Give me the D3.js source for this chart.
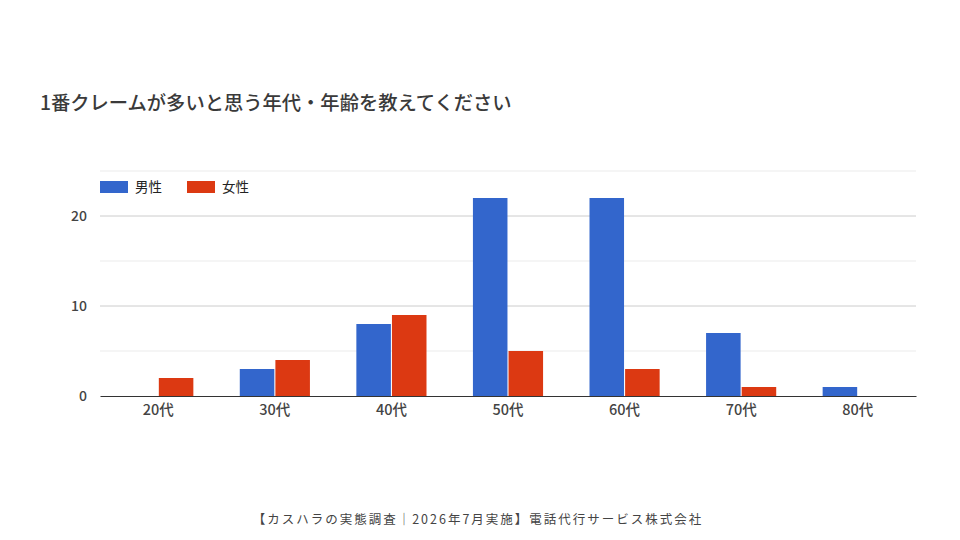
<!DOCTYPE html>
<html>
<head>
<meta charset="utf-8">
<script src="https://cdn.jsdelivr.net/npm/d3@7"></script>
<style>
  body { margin: 0; background: #fff; }
  svg text { font-family: "Noto Sans CJK JP", "Noto Sans", sans-serif; }
</style>
</head>
<body>
<div id="chart"></div>
<script>
var categories = ["20代", "30代", "40代", "50代", "60代", "70代", "80代"];
var seriesNames = ["男性", "女性"];
var maleValues = [0, 3, 8, 22, 22, 7, 1];
var femaleValues = [2, 4, 9, 5, 3, 1, 0];
var yTicks = [0, 10, 20];
var yMinor = [5, 15, 25];
var colors = ["#3366cc", "#dc3912"];

var svgWidth = 960, svgHeight = 540;
var margin = { top: 171, right: 44, bottom: 144, left: 100 };
var width = svgWidth - margin.left - margin.right;
var height = svgHeight - margin.top - margin.bottom;

var svg = d3.select("#chart").append("svg")
  .attr("width", svgWidth)
  .attr("height", svgHeight);

svg.append("text")
  .attr("x", 40)
  .attr("y", 110)
  .attr("fill", "#3a3a3a")
  .style("font-size", "19.3px")
  .style("font-weight", 500)
  .text("1番クレームが多いと思う年代・年齢を教えてください");

var chart = svg.append("g").attr("transform", `translate(${margin.left}, ${margin.top})`);

var x0 = d3.scaleBand().domain(categories).range([0, width]).paddingInner(0.38).paddingOuter(0.19);
var x1 = d3.scaleBand().domain(seriesNames).range([0, x0.bandwidth()]).padding(0.03);
var y = d3.scaleLinear().domain([0, 25]).range([height, 0]);

// gridlines
chart.selectAll(".minor").data(yMinor).enter().append("line")
  .attr("x1", 0).attr("x2", width)
  .attr("y1", function (d) { return y(d); })
  .attr("y2", function (d) { return y(d); })
  .attr("stroke", "#ebebeb");
chart.selectAll(".major").data(yTicks.slice(1)).enter().append("line")
  .attr("x1", 0).attr("x2", width)
  .attr("y1", function (d) { return y(d); })
  .attr("y2", function (d) { return y(d); })
  .attr("stroke", "#cccccc");

var leftAxis = d3.axisLeft(y).tickValues(yTicks).tickSize(0).tickPadding(13);
var yAxis = chart.append("g").call(leftAxis);
yAxis.select(".domain").remove();
yAxis.selectAll("text").attr("fill", "#444").style("font-size", "14px").style("font-weight", 500);

var groups = chart.selectAll(".grp").data(categories).enter().append("g")
  .attr("transform", function (d) { return `translate(${x0(d)},0)`; });

groups.selectAll("rect")
  .data(function (d, i) { return [{ s: seriesNames[0], v: maleValues[i] }, { s: seriesNames[1], v: femaleValues[i] }]; })
  .enter().append("rect")
  .attr("x", function (d) { return x1(d.s); })
  .attr("y", function (d) { return y(d.v); })
  .attr("width", x1.bandwidth())
  .attr("height", function (d) { return height - y(d.v); })
  .attr("fill", function (d, i) { return colors[i]; });

var bottomAxis = d3.axisBottom(x0).tickSize(0).tickPadding(9);
var xAxis = chart.append("g").attr("transform", `translate(0, ${height})`).call(bottomAxis);
xAxis.select(".domain").attr("stroke", "#333").attr("stroke-width", 1.2);
xAxis.selectAll("text").attr("fill", "#444").style("font-size", "14.5px").style("font-weight", 500);

// legend
var legend = svg.append("g").attr("transform", "translate(100, 181)");
var lg = legend.selectAll("g").data(seriesNames).enter().append("g")
  .attr("transform", function (d, i) { return `translate(${i * 87}, 0)`; });
lg.append("rect").attr("width", 28).attr("height", 12).attr("fill", function (d, i) { return colors[i]; });
lg.append("text").attr("x", 35).attr("y", 11).attr("fill", "#222").style("font-size", "13.5px")
  .text(function (d) { return d; });

svg.append("text")
  .attr("x", 478)
  .attr("y", 524)
  .attr("text-anchor", "middle")
  .attr("fill", "#444")
  .style("font-size", "12.5px")
  .style("letter-spacing", "2px")
  .text("【カスハラの実態調査｜2026年7月実施】電話代行サービス株式会社");
</script>
</body>
</html>
